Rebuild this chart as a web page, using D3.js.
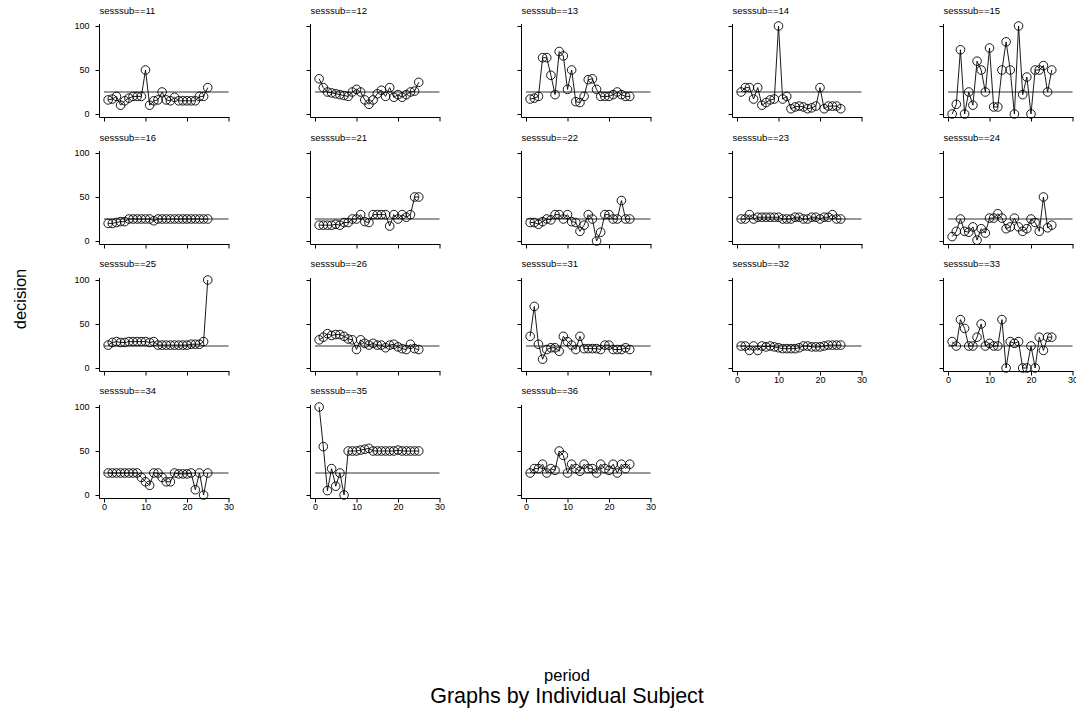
<!DOCTYPE html>
<html>
<head>
<meta charset="utf-8">
<script src="https://cdn.jsdelivr.net/npm/d3@7"></script>
<style>
  body { margin: 0; background: #fff; }
  svg { display: block; }
</style>
</head>
<body>
<svg id="svg"></svg>
<script>
// data
const subjects = [11, 12, 13, 14, 15, 16, 21, 22, 23, 24, 25, 26, 31, 32, 33, 34, 35, 36]
const periods = [1, 2, 3, 4, 5, 6, 7, 8, 9, 10, 11, 12, 13, 14, 15, 16, 17, 18, 19, 20, 21, 22, 23, 24, 25]
const yTicks = [0, 50, 100]
const xTicks = [0, 10, 20, 30]
const refLevel = 25

const decision11 = [16, 17, 20, 10, 15, 18, 20, 20, 20, 50, 10, 15, 16, 25, 16, 15, 19, 15, 15, 15, 15, 15, 20, 20, 30]
const decision12 = [40, 30, 25, 24, 23, 22, 21, 20, 25, 28, 25, 16, 11, 16, 23, 27, 20, 30, 19, 22, 19, 22, 25, 26, 36]
const decision13 = [17, 18, 20, 64, 64, 44, 22, 71, 66, 28, 50, 14, 13, 20, 39, 40, 28, 20, 20, 20, 22, 25, 22, 20, 20]
const decision14 = [25, 30, 30, 17, 30, 10, 13, 16, 17, 100, 17, 20, 6, 8, 9, 8, 6, 7, 9, 30, 6, 9, 9, 9, 6]
const decision15 = [0, 11, 73, 0, 25, 10, 60, 50, 25, 75, 8, 8, 50, 82, 50, 0, 100, 22, 42, 0, 50, 50, 55, 25, 50]
const decision16 = [20, 20, 21, 22, 22, 25, 25, 25, 25, 25, 25, 23, 25, 25, 25, 25, 25, 25, 25, 25, 25, 25, 25, 25, 25]
const decision21 = [18, 18, 18, 18, 19, 18, 21, 21, 25, 25, 30, 22, 21, 30, 30, 30, 30, 17, 30, 25, 30, 27, 30, 50, 50]
const decision22 = [21, 21, 19, 22, 25, 24, 30, 30, 25, 30, 22, 21, 11, 18, 30, 25, 0, 10, 30, 30, 25, 25, 46, 25, 25]
const decision23 = [25, 25, 30, 25, 27, 27, 27, 27, 27, 27, 25, 25, 25, 27, 27, 25, 25, 27, 27, 25, 27, 27, 30, 25, 25]
const decision24 = [5, 11, 25, 11, 10, 16, 1, 14, 9, 26, 26, 31, 26, 14, 16, 26, 16, 11, 14, 25, 21, 11, 50, 15, 18]
const decision25 = [26, 29, 30, 29, 29, 30, 30, 30, 30, 30, 29, 30, 26, 26, 26, 26, 26, 26, 26, 26, 27, 27, 27, 30, 100]
const decision26 = [32, 35, 39, 37, 38, 38, 36, 33, 32, 21, 32, 28, 26, 28, 26, 26, 23, 26, 27, 24, 22, 21, 27, 22, 21]
const decision31 = [36, 70, 27, 10, 21, 23, 23, 19, 36, 30, 26, 21, 36, 22, 22, 22, 22, 21, 26, 26, 21, 21, 21, 23, 21]
const decision32 = [25, 25, 20, 25, 20, 25, 24, 25, 24, 23, 22, 22, 22, 22, 23, 25, 25, 24, 24, 24, 25, 26, 26, 26, 26]
const decision33 = [30, 25, 55, 45, 25, 25, 35, 50, 25, 28, 25, 25, 55, 0, 30, 28, 30, 0, 0, 25, 0, 35, 20, 35, 35]
const decision34 = [25, 25, 25, 25, 25, 25, 25, 25, 20, 15, 11, 25, 25, 20, 15, 15, 25, 24, 24, 24, 25, 6, 25, 0, 25]
const decision35 = [100, 55, 5, 30, 10, 25, 0, 50, 50, 50, 51, 52, 53, 50, 50, 50, 50, 50, 50, 51, 50, 50, 50, 50, 50]
const decision36 = [25, 30, 30, 35, 25, 30, 28, 50, 45, 25, 35, 30, 27, 35, 30, 30, 25, 35, 30, 28, 35, 25, 35, 30, 35]

const decisions = [decision11, decision12, decision13, decision14, decision15, decision16,
                   decision21, decision22, decision23, decision24, decision25, decision26,
                   decision31, decision32, decision33, decision34, decision35, decision36]

const width = 1076
const height = 727
const font = 'Liberation Sans, Arial, Helvetica, sans-serif'

const svg = d3.select('#svg').attr('width', width).attr('height', height)

// panel grid
const cols = 5
const colStart = 104
const colStep = 211
const plotW = 124.5
const rowStart = 114
const rowStep = 127
const plotH = 88

subjects.forEach((sub, i) => {
    let c = i % cols
    let r = Math.floor(i / cols)
    let x0 = colStart + c * colStep
    let yBase = rowStart + r * rowStep

    let x = d3.scaleLinear().domain([0, 30]).range([x0, x0 + plotW])
    let y = d3.scaleLinear().domain([0, 100]).range([yBase, yBase - plotH])

    let axisX = x0 - 4.5
    let axisY = yBase + 3.5
    let showX = i + cols >= subjects.length
    let showY = c === 0

    let g = svg.append('g').attr('class', 'panel')

    // title
    g.append('text')
        .text(`sesssub==${sub}`)
        .attr('font-family', font)
        .attr('font-size', 9.5)
        .attr('fill', '#000')
        .attr('x', axisX)
        .attr('y', 14 + r * 126.7)

    // y axis
    let yAxis = g.append('g')
        .attr('transform', `translate(${axisX},0)`)
        .call(d3.axisLeft(y).tickValues(yTicks).tickSize(4).tickPadding(6)
            .tickFormat(showY ? d3.format('d') : ''))
    yAxis.select('.domain').remove()

    // x axis
    let xAxis = g.append('g')
        .attr('transform', `translate(0,${axisY})`)
        .call(d3.axisBottom(x).tickValues(xTicks).tickSize(4).tickPadding(1)
            .tickFormat(showX ? d3.format('d') : ''))
    xAxis.select('.domain').remove()

    g.selectAll('.tick line').attr('stroke', '#000').attr('stroke-width', 1)
    g.selectAll('.tick text')
        .attr('font-family', font)
        .attr('font-size', 9)
        .attr('fill', '#000')

    g.append('line')
        .attr('x1', axisX).attr('x2', axisX)
        .attr('y1', y(100) - 2).attr('y2', axisY)
        .attr('stroke', '#000').attr('stroke-width', 1)
    g.append('line')
        .attr('x1', axisX).attr('x2', x(30) + 1)
        .attr('y1', axisY).attr('y2', axisY)
        .attr('stroke', '#000').attr('stroke-width', 1)

    // reference line
    g.append('line')
        .attr('x1', x(0)).attr('x2', x(30))
        .attr('y1', y(refLevel)).attr('y2', y(refLevel))
        .attr('stroke', '#333').attr('stroke-width', 1)

    let pts = periods.map((p, k) => ({ p: p, v: decisions[i][k] }))

    g.append('path')
        .datum(pts)
        .attr('fill', 'none')
        .attr('stroke', '#000')
        .attr('stroke-width', 0.9)
        .attr('d', d3.line().x(d => x(d.p)).y(d => y(d.v)))

    g.selectAll('circle')
        .data(pts)
        .enter()
        .append('circle')
        .attr('cx', d => x(d.p))
        .attr('cy', d => y(d.v))
        .attr('r', 4.3)
        .attr('fill', 'none')
        .attr('stroke', '#000')
        .attr('stroke-width', 0.9)
})

// shared titles
svg.append('text')
    .text('decision')
    .attr('font-family', font)
    .attr('font-size', 16.5)
    .attr('fill', '#000')
    .attr('text-anchor', 'middle')
    .attr('transform', 'translate(26,299) rotate(-90)')

svg.append('text')
    .text('period')
    .attr('font-family', font)
    .attr('font-size', 16.5)
    .attr('fill', '#000')
    .attr('text-anchor', 'middle')
    .attr('x', 567)
    .attr('y', 681)

svg.append('text')
    .text('Graphs by Individual Subject')
    .attr('font-family', font)
    .attr('font-size', 21.5)
    .attr('fill', '#000')
    .attr('text-anchor', 'middle')
    .attr('x', 567)
    .attr('y', 703)
</script>
</body>
</html>
